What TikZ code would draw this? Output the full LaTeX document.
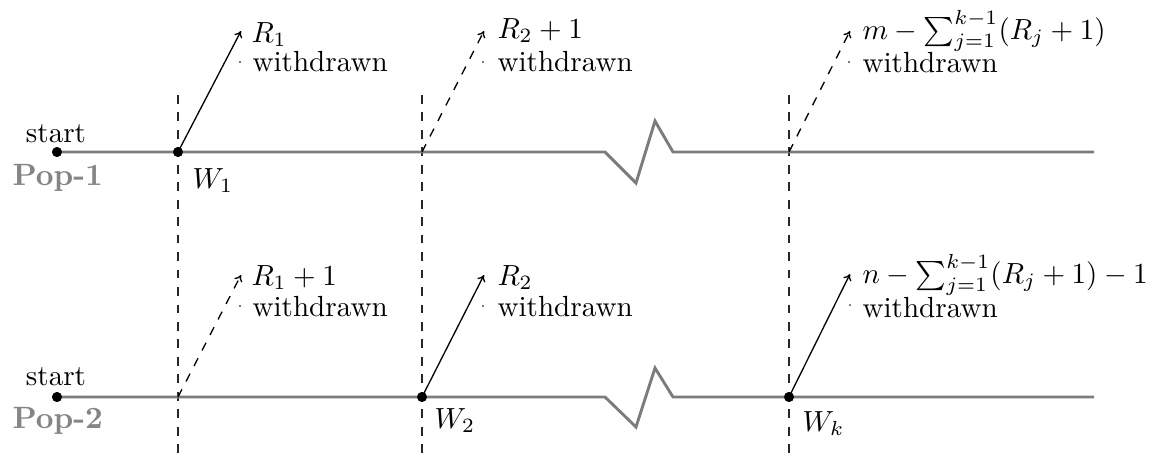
\documentclass[tikz,border=0pt]{standalone}
\usetikzlibrary{arrows.meta}
\definecolor{linegray}{HTML}{7C7C7C}
\definecolor{popgray}{HTML}{858585}
\begin{document}
\begin{tikzpicture}[x=0.3436pt,y=-0.3436pt,
  timeline/.style={draw=linegray, line width=1pt, line join=miter},
  guide/.style={dashed, line width=0.45pt, draw=black!85},
  wdot/.style={circle, fill=black, inner sep=0pt, minimum size=3.4pt},
  lbl/.style={anchor=base west, inner sep=0pt},
  poplbl/.style={anchor=base west, inner sep=0pt, text=popgray, font=\fontsize{10.6}{12}\selectfont\bfseries},
  startlbl/.style={anchor=base, inner sep=0pt},
  arr/.style={-{To[length=2.2pt,width=3pt]}, line width=0.45pt},
  darr/.style={arr, dashed},
  tinydot/.style={fill=black!70}]
\useasboundingbox (0,0) rectangle (1162,461);

% vertical guides
\coordinate (g1t) at (178,95);  \coordinate (g1b) at (178,461);
\coordinate (g2t) at (422,95);  \coordinate (g2b) at (422,461);
\coordinate (g3t) at (789,95);  \coordinate (g3b) at (789,461);
\draw[guide] (g1t) -- (g1b);
\draw[guide] (g2t) -- (g2b);
\draw[guide] (g3t) -- (g3b);

% Pop-1 line
\node[wdot] (s1) at (57,152) {};
\node[wdot] (w1) at (178,152) {};
\coordinate (e1) at (1094,152);
\coordinate (p12) at (422,152);
\coordinate (p13) at (789,152);
\draw[timeline] (s1.center) -- (605,152) -- (636,183) -- (655,121) -- (673,152) -- (e1);
\node[wdot] at (57,152) {};
\node[wdot] at (178,152) {};

% Pop-2 line
\node[wdot] (s2) at (57,397) {};
\node[wdot] (w2) at (422,397) {};
\node[wdot] (wk) at (789,397) {};
\coordinate (e2) at (1094,397);
\coordinate (p21) at (178,397);
\draw[timeline] (s2.center) -- (605,397) -- (636,427) -- (655,368) -- (673,397) -- (e2);
\node[wdot] at (57,397) {};
\node[wdot] at (422,397) {};
\node[wdot] at (789,397) {};

% labels on lines
\node[startlbl] (st1) at (56,142) {start};
\node[startlbl] (st2) at (56,385) {start};
\node[poplbl] (pop1) at (12,185) {Pop-1};
\node[poplbl] (pop2) at (12,428) {Pop-2};
\node[lbl] (lw1) at (192,188) {$W_1$};
\node[lbl] (lw2) at (434,428) {$W_2$};
\node[lbl] (lwk) at (802,431) {$W_k$};

% arrow tips
\coordinate (t11) at (241,31);
\coordinate (t12) at (484,31);
\coordinate (t13) at (850,31);
\coordinate (t21) at (241,275);
\coordinate (t22) at (484,275);
\coordinate (t23) at (850,274);

\draw[arr] (w1.center) -- (t11);
\draw[darr] (p12) -- (t12);
\draw[darr] (p13) -- (t13);
\draw[darr] (p21) -- (t21);
\draw[arr] (w2.center) -- (t22);
\draw[arr] (wk.center) -- (t23);

% tiny dots
\fill[tinydot] (240,62) circle (0.35pt);
\fill[tinydot] (483,62) circle (0.35pt);
\fill[tinydot] (849,62) circle (0.35pt);
\fill[tinydot] (240,306) circle (0.35pt);
\fill[tinydot] (483,306) circle (0.35pt);
\fill[tinydot] (850,305) circle (0.35pt);

% top labels
\node[lbl] (a11) at (251,42) {$R_1$};
\node[lbl] (b11) at (252,71) {withdrawn};
\node[lbl] (a12) at (497,38) {$R_2+1$};
\node[lbl] (b12) at (497,71) {withdrawn};
\node[lbl] (a13) at (862,39) {$m-\sum_{j=1}^{k-1}(R_j+1)$};
\node[lbl] (b13) at (862,72) {withdrawn};

% bottom labels
\node[lbl] (a21) at (251,285) {$R_1+1$};
\node[lbl] (b21) at (252,316) {withdrawn};
\node[lbl] (a22) at (497,285) {$R_2$};
\node[lbl] (b22) at (497,316) {withdrawn};
\node[lbl] (a23) at (862,283) {$n-\sum_{j=1}^{k-1}(R_j+1)-1$};
\node[lbl] (b23) at (862,317) {withdrawn};
\end{tikzpicture}
\end{document}
